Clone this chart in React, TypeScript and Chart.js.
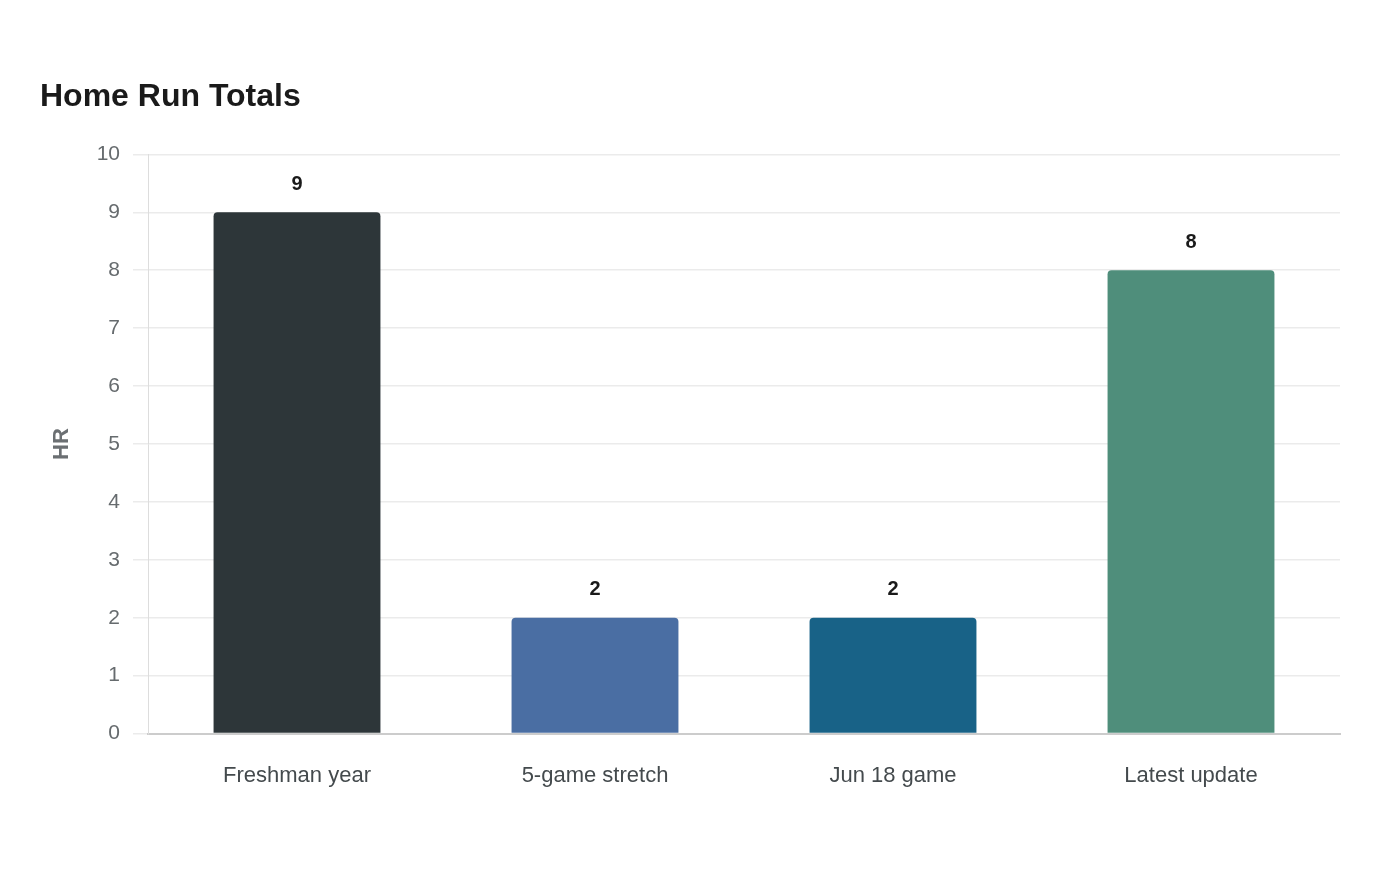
import React, { useEffect, useRef } from "react";
import { Chart, registerables } from "chart.js";

Chart.register(...registerables);

const categories = ["Freshman year", "5-game stretch", "Jun 18 game", "Latest update"];
const homeRuns = [9, 2, 2, 8];
const barColors = ["#2d3639", "#4a6ea3", "#186287", "#4f8e7b"];
const yTickMax = 10;
const chartTitle = "Home Run Totals";
const yAxisTitle = "HR";

const FONT = "'Liberation Sans', Arial, Helvetica, sans-serif";

const valueLabels = {
  id: "valueLabels",
  afterDatasetsDraw(chart: any) {
    const ctx = chart.ctx;
    const meta = chart.getDatasetMeta(0);
    ctx.save();
    ctx.font = `bold 20px ${FONT}`;
    ctx.fillStyle = "#1a1a1a";
    ctx.textAlign = "center";
    ctx.textBaseline = "middle";
    meta.data.forEach((bar: any, i: number) => {
      ctx.fillText(String(chart.data.datasets[0].data[i]), bar.x, bar.y - 28);
    });
    ctx.restore();
  },
};

export default function App() {
  const ref = useRef<HTMLCanvasElement | null>(null);
  useEffect(() => {
    if (!ref.current) return;
    const chart = new Chart(ref.current, {
      type: "bar",
      data: {
        labels: categories,
        datasets: [
          {
            data: homeRuns,
            backgroundColor: barColors,
            borderRadius: 4,
            barPercentage: 0.7,
            categoryPercentage: 0.8,
          },
        ],
      },
      options: {
        animation: false,
        responsive: false,
        maintainAspectRatio: false,
        layout: { padding: { left: 40, right: 60, top: 0, bottom: 62 } },
        plugins: {
          legend: { display: false },
          tooltip: { enabled: false },
          title: {
            display: true,
            text: chartTitle,
            align: "start",
            color: "#1a1a1a",
            font: { family: FONT, size: 32, weight: "bold" },
            padding: { top: 78, bottom: 38 },
          },
        },
        scales: {
          x: {
            grid: { display: false, drawTicks: false },
            border: { display: true, color: "#cccccc", width: 2 },
            ticks: {
              color: "#444a4d",
              font: { family: FONT, size: 22 },
              padding: 29,
            },
          },
          y: {
            min: 0,
            max: yTickMax,
            ticks: {
              stepSize: 1,
              color: "#666b6e",
              font: { family: FONT, size: 21 },
              padding: 13,
            },
            grid: { color: "#ebebeb", lineWidth: 1.5, tickLength: 15 },
            border: { display: true, color: "#dddddd", width: 1 },
            title: {
              display: true,
              text: yAxisTitle,
              color: "#6b6f72",
              font: { family: FONT, size: 22, weight: "bold" },
              padding: { top: 9, bottom: 20 },
            },
            afterFit: (s: any) => {
              s.width = 108;
            },
          },
        },
      },
      plugins: [valueLabels],
    });
    return () => chart.destroy();
  }, []);
  return (
    <div style={{ position: "fixed", left: 0, top: 0, width: 1400, height: 880, background: "#fff" }}>
      <canvas ref={ref} width={1400} height={880} style={{ width: 1400, height: 880, display: "block" }} />
    </div>
  );
}
